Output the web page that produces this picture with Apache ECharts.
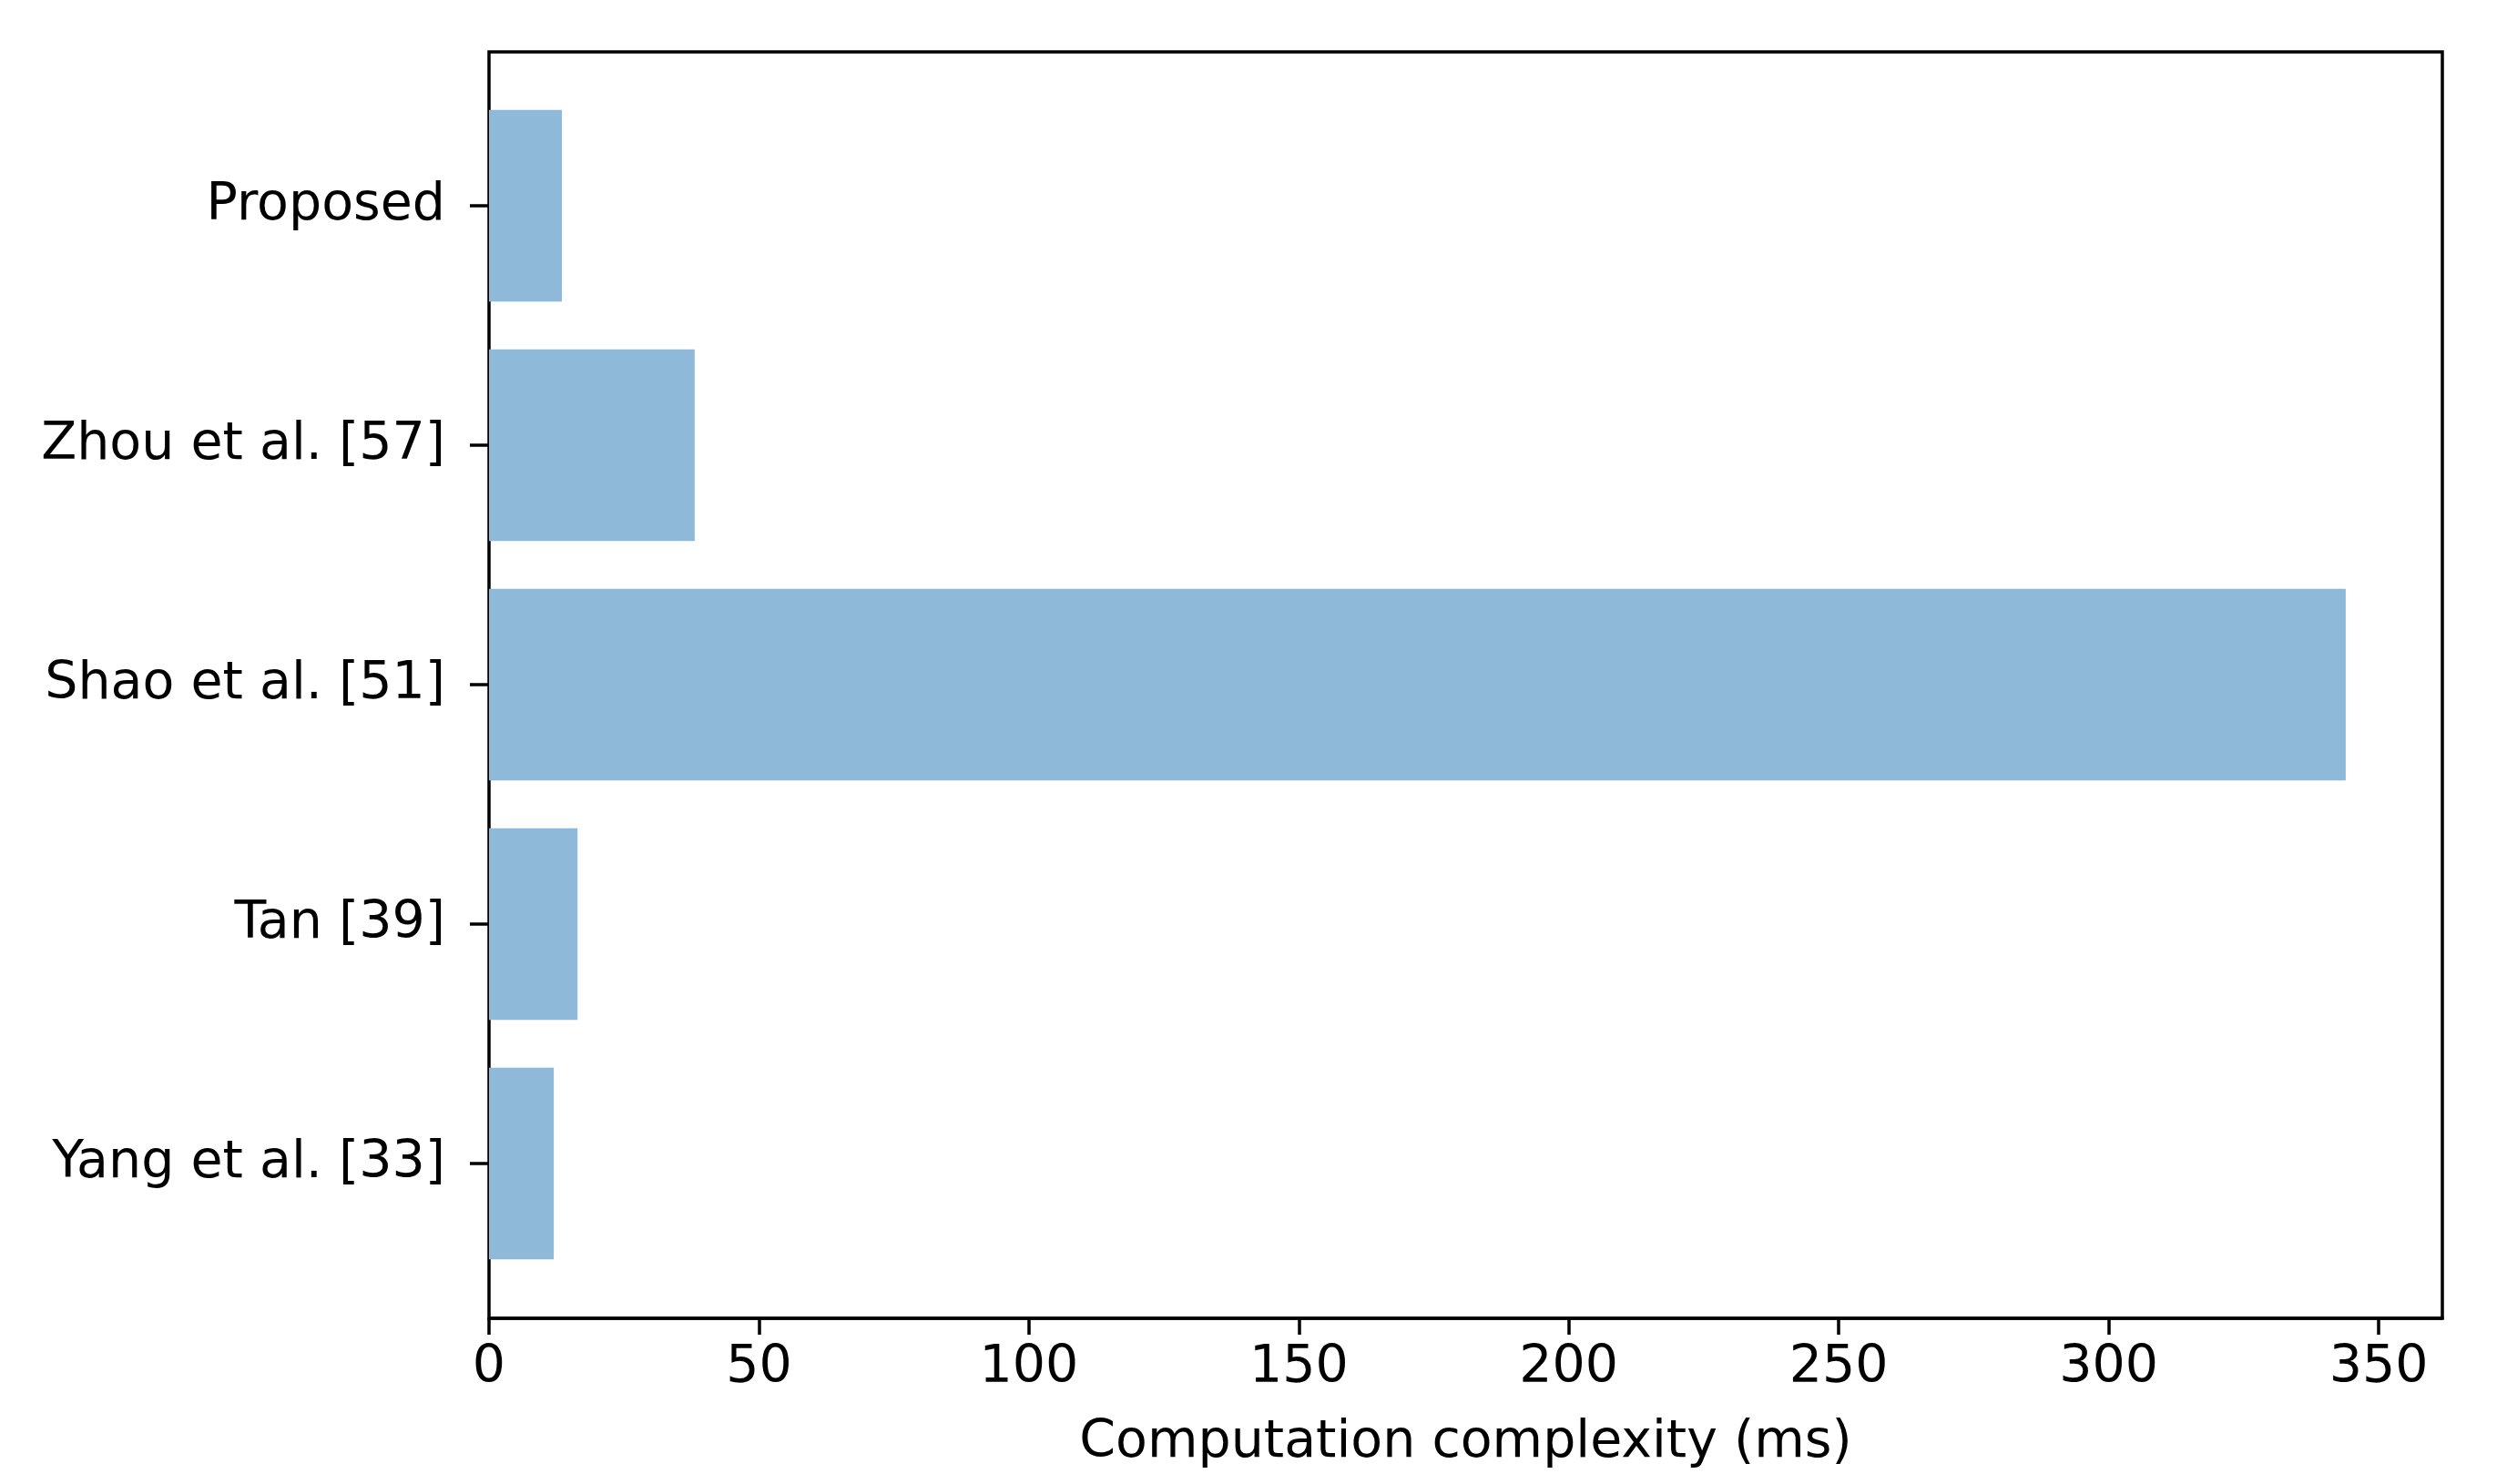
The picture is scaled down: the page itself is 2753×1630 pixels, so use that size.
<!DOCTYPE html>
<html>
<head>
<meta charset="utf-8">
<script src="https://cdn.jsdelivr.net/npm/echarts@6/dist/echarts.min.js"></script>
<style>
html,body{margin:0;padding:0;background:#fff;}
#chart{width:2753px;height:1630px;}
</style>
</head>
<body>
<div id="chart"></div>
<script>
const categories = ["Proposed", "Zhou et al. [57]", "Shao et al. [51]", "Tan [39]", "Yang et al. [33]"];
const values = [13.5, 38.1, 343.9, 16.4, 12.0];
const xTicks = [0, 50, 100, 150, 200, 250, 300, 350];
const xMax = 361.8;
const xLabel = "Computation complexity (ms)";

const font = "DejaVu Sans";
const fs = 57;
const chart = echarts.init(document.getElementById('chart'), null, {renderer: 'canvas'});
chart.setOption({
  backgroundColor: '#ffffff',
  animation: false,
  grid: [
    {left: 537, right: 71, top: 57, bottom: 182, show: true, borderColor: '#000', borderWidth: 3.5, backgroundColor: 'transparent'},
    {left: 537, right: 71, top: 94.5, bottom: 220.5}
  ],
  xAxis: [
    {
      gridIndex: 0, type: 'value', min: 0, max: xMax,
      splitLine: {show: false},
      axisLine: {show: true, lineStyle: {color: '#000', width: 3.5}},
      axisTick: {show: true, length: 18, customValues: xTicks, lineStyle: {color: '#000', width: 3.5}},
      axisLabel: {show: true, color: '#000', fontFamily: font, fontSize: fs, margin: 27, customValues: xTicks},
      name: xLabel, nameLocation: 'middle', nameGap: 109,
      nameTextStyle: {color: '#000', fontFamily: font, fontSize: fs}
    },
    {gridIndex: 1, type: 'value', min: 0, max: xMax, show: false}
  ],
  yAxis: [
    {gridIndex: 0, type: 'value', show: false},
    {
      gridIndex: 1, type: 'category', data: categories, inverse: true,
      axisLine: {show: false},
      axisTick: {show: true, alignWithLabel: true, length: 21, lineStyle: {color: '#000', width: 3.5}},
      axisLabel: {color: '#000', fontFamily: font, fontSize: fs, margin: 48, padding: [6, 0, 0, 0]},
      splitLine: {show: false}
    }
  ],
  series: [{
    type: 'bar', xAxisIndex: 1, yAxisIndex: 1,
    data: values, barWidth: '80%',
    itemStyle: {color: 'rgb(143,185,216)'}
  }]
});
</script>
</body>
</html>
